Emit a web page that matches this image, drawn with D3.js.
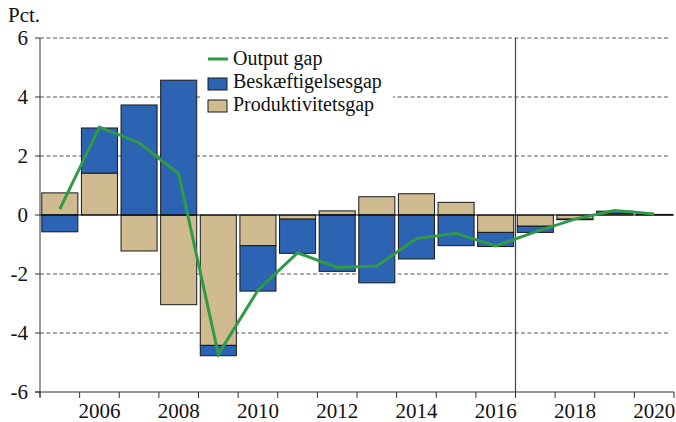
<!DOCTYPE html>
<html>
<head>
<meta charset="utf-8">
<script src="https://cdn.jsdelivr.net/npm/d3@7"></script>
<style>
  body { margin: 0; background: #fff; }
  svg text { font-family: 'Liberation Serif', 'DejaVu Serif', serif; fill: #111; }
</style>
</head>
<body>
<div id="chart"></div>
<script>
var years = [2005, 2006, 2007, 2008, 2009, 2010, 2011, 2012, 2013, 2014, 2015, 2016, 2017, 2018, 2019, 2020];
var outputGap = [0.2, 2.98, 2.45, 1.4, -4.72, -2.55, -1.28, -1.78, -1.73, -0.8, -0.62, -1.05, -0.57, -0.14, 0.15, 0.03];
var beskaeftigelsesgap = [-0.57, 1.53, 3.73, 4.57, -0.35, -1.54, -1.16, -1.91, -2.3, -1.49, -1.04, -0.48, -0.21, -0.02, 0.08, 0.01];
var produktivitetsgap = [0.75, 1.42, -1.22, -3.04, -4.42, -1.04, -0.14, 0.14, 0.62, 0.72, 0.43, -0.59, -0.38, -0.14, 0.05, 0.01];
var yTicks = [-6, -4, -2, 0, 2, 4, 6];
var labelYears = [2006, 2008, 2010, 2012, 2014, 2016, 2018, 2020];
var splitYear = 2016.5;
var legendNames = ["Output gap", "Beskæftigelsesgap", "Produktivitetsgap"];

var W = 676, H = 422;
var margin = { top: 38, right: 2, bottom: 30, left: 40 },
    width = W - margin.left - margin.right,
    height = H - margin.top - margin.bottom;

var colBlue = "#2c63b2", colTan = "#cfbb8f", colGreen = "#2f9a48";
var serif = "'Liberation Serif', 'DejaVu Serif', serif";

var svg = d3.select("#chart").append("svg")
    .attr("width", W).attr("height", H)
    .attr("font-family", serif)
  .append("g")
    .attr("transform", "translate(" + margin.left + "," + margin.top + ")");

var x = d3.scaleBand().domain(years).range([0, width]).paddingInner(0.09).paddingOuter(0.045);
// continuous year scale for slot boundaries
var xc = d3.scaleLinear().domain([2004.5, 2020.5]).range([0, width]);
var y = d3.scaleLinear().domain([-6, 6]).range([height, 0]);

// dashed grid
svg.selectAll(".grid").data(yTicks.filter(function(d) { return d !== 0 && d !== -6; }))
  .enter().append("line")
    .attr("x1", 0).attr("x2", width - 4)
    .attr("y1", function(d) { return y(d); }).attr("y2", function(d) { return y(d); })
    .attr("stroke", "#555").attr("stroke-width", 1).attr("stroke-dasharray", "4,2.5");

// vertical split line
svg.append("line")
    .attr("x1", xc(splitYear)).attr("x2", xc(splitYear))
    .attr("y1", y(6)).attr("y2", y(-6))
    .attr("stroke", "#444").attr("stroke-width", 1.2);

// stacked bars
var rows = years.map(function(yr, i) {
  return { year: yr, prod: produktivitetsgap[i], blue: beskaeftigelsesgap[i] };
});
var series = d3.stack().keys(["prod", "blue"]).offset(d3.stackOffsetDiverging)(rows);
var fills = { prod: colTan, blue: colBlue };

svg.selectAll(".series").data(series).enter().append("g")
    .attr("fill", function(s) { return fills[s.key]; })
  .selectAll("rect").data(function(s) { return s; })
  .enter().append("rect")
    .attr("x", function(d) { return x(d.data.year); })
    .attr("width", x.bandwidth())
    .attr("y", function(d) { return y(Math.max(d[0], d[1])); })
    .attr("height", function(d) { return Math.abs(y(d[0]) - y(d[1])); })
    .attr("stroke", "#1a1a1a").attr("stroke-width", 1);

// zero line
svg.append("line")
    .attr("x1", 0).attr("x2", width)
    .attr("y1", y(0)).attr("y2", y(0))
    .attr("stroke", "#000").attr("stroke-width", 1.2);

// output gap line
var line = d3.line()
    .x(function(d, i) { return x(years[i]) + x.bandwidth() / 2; })
    .y(function(d) { return y(d); });

svg.append("path")
    .datum(outputGap)
    .attr("fill", "none")
    .attr("stroke", colGreen)
    .attr("stroke-width", 3)
    .attr("d", line);

// y axis
svg.append("line")
    .attr("x1", 0).attr("x2", 0).attr("y1", y(6)).attr("y2", y(-6) + 5)
    .attr("stroke", "#333").attr("stroke-width", 1);
svg.selectAll(".ytick").data(yTicks).enter().append("line")
    .attr("x1", -5).attr("x2", 0)
    .attr("y1", function(d) { return y(d); }).attr("y2", function(d) { return y(d); })
    .attr("stroke", "#333");
svg.selectAll(".ylab").data(yTicks).enter().append("text")
    .attr("x", -12).attr("y", function(d) { return y(d); })
    .attr("dy", "0.35em")
    .attr("text-anchor", "end")
    .attr("font-family", serif)
    .attr("font-size", 21)
    .text(function(d) { return d; });

svg.append("text")
    .attr("x", -32).attr("y", -16)
    .attr("font-family", serif)
    .attr("font-size", 21)
    .text("Pct.");

// x axis
svg.append("line")
    .attr("x1", -5).attr("x2", width)
    .attr("y1", y(-6)).attr("y2", y(-6))
    .attr("stroke", "#333").attr("stroke-width", 1.2);
svg.selectAll(".xtick").data(d3.range(2004.5, 2021, 1)).enter().append("line")
    .attr("x1", function(d) { return xc(d); }).attr("x2", function(d) { return xc(d); })
    .attr("y1", y(-6)).attr("y2", y(-6) + 6)
    .attr("stroke", "#333");
svg.selectAll(".xlab").data(labelYears).enter().append("text")
    .attr("x", function(d) { return x(d) + x.bandwidth() / 2; })
    .attr("y", y(-6) + 26)
    .attr("text-anchor", "middle")
    .attr("font-family", serif)
    .attr("font-size", 21)
    .text(function(d) { return d; });

// legend
var legend = svg.append("g").attr("transform", "translate(160,7)");
legend.append("rect")
    .attr("x", 0).attr("y", 0).attr("width", 193).attr("height", 72)
    .attr("fill", "#fff");
legend.append("line")
    .attr("x1", 8).attr("x2", 28).attr("y1", 14).attr("y2", 14)
    .attr("stroke", colGreen).attr("stroke-width", 3);
legend.selectAll(".lbox").data([colBlue, colTan]).enter().append("rect")
    .attr("x", 8).attr("y", function(d, i) { return 33 + i * 22; })
    .attr("width", 19).attr("height", 12)
    .attr("fill", function(d) { return d; })
    .attr("stroke", "#1a1a1a");
legend.selectAll(".ltext").data(legendNames).enter().append("text")
    .attr("x", 33).attr("y", function(d, i) { return 20 + i * 23; })
    .attr("font-family", serif)
    .attr("font-size", 20)
    .text(function(d) { return d; });
</script>
</body>
</html>
